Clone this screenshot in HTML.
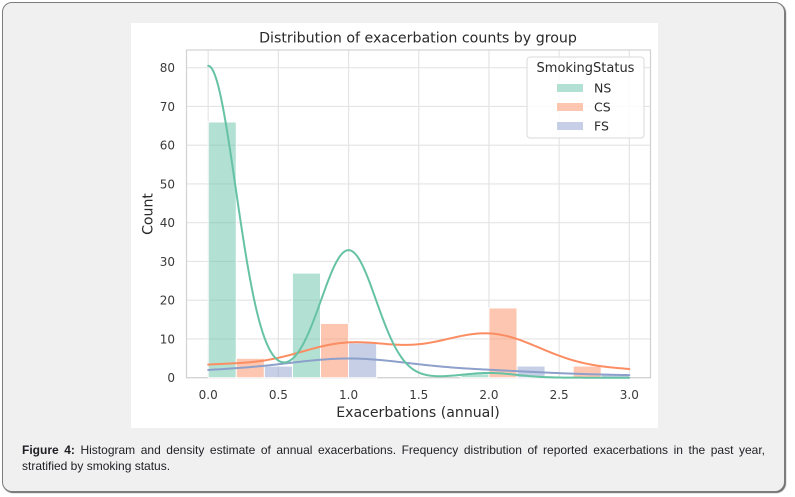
<!DOCTYPE html>
<html><head><meta charset="utf-8">
<style>
html,body{margin:0;padding:0;background:#fff;width:795px;height:497px;overflow:hidden}
.box{position:absolute;left:2px;top:2px;width:783px;height:490px;box-sizing:border-box;border:1px solid #7c7c7c;border-radius:10px;background:#f0f0f0;box-shadow:1px 1px 1px #666}
.cap{position:absolute;left:22px;top:442px;width:743px;font:12px/16px "Liberation Sans",Arial,sans-serif;color:#1e1e24}
.l1{text-align:justify;text-align-last:justify;white-space:nowrap}
svg{position:absolute;left:0;top:0}
</style></head><body>
<div class="box"></div>
<svg width="795" height="497" xmlns="http://www.w3.org/2000/svg" font-family="'DejaVu Sans','Liberation Sans',sans-serif">
<rect x="131" y="23" width="527" height="405" fill="#ffffff"/>
<g id="grid" stroke="#e4e4e4" stroke-width="1.2"></g>
<rect x="186.5" y="50" width="464" height="327.7" fill="none" stroke="#d2d2d2" stroke-width="1.2"/>
<g id="bars"></g>
<g id="lines" fill="none" stroke-width="2" stroke-linejoin="round" stroke-linecap="round">
<path id="fs" stroke="#8da0cb"/>
<path id="cs" stroke="#fc8d62"/>
<path id="ns" stroke="#66c2a5"/>
</g>
<g id="ticks" font-size="12" fill="#3a3a3a"></g>
<text x="418" y="42.5" text-anchor="middle" font-size="14.2" fill="#2a2a2a">Distribution of exacerbation counts by group</text>
<text x="418" y="417" text-anchor="middle" font-size="14.1" fill="#2a2a2a">Exacerbations (annual)</text>
<text transform="translate(152.5,214) rotate(-90)" text-anchor="middle" font-size="14.1" fill="#2a2a2a">Count</text>
<rect x="527" y="57" width="117" height="81" rx="3" fill="#ffffff" fill-opacity="0.85" stroke="#dadada" stroke-width="1"/>
<text x="585.5" y="72" text-anchor="middle" font-size="13" fill="#2a2a2a">SmokingStatus</text>
<rect x="557" y="84" width="26" height="8" fill="#66c2a5" fill-opacity="0.5"/>
<rect x="557" y="103" width="26" height="8" fill="#fc8d62" fill-opacity="0.5"/>
<rect x="557" y="122" width="26" height="8" fill="#8da0cb" fill-opacity="0.5"/>
<text x="594" y="92.5" font-size="12.5" fill="#2a2a2a">NS</text>
<text x="594" y="111.5" font-size="12.5" fill="#2a2a2a">CS</text>
<text x="594" y="130.5" font-size="12.5" fill="#2a2a2a">FS</text>
</svg>
<div class="cap"><div class="l1"><b>Figure 4:</b> Histogram and density estimate of annual exacerbations. Frequency distribution of reported exacerbations in the past year,</div><div>stratified by smoking status.</div></div>
<script>
(function(){
var NS="http://www.w3.org/2000/svg";
var X=function(v){return 208.2+140.37*v;}, Y=function(c){return 377.7-3.875*c;};
function el(tag,attrs,parent,txt){var e=document.createElementNS(NS,tag);for(var k in attrs)e.setAttribute(k,attrs[k]);if(txt!==undefined)e.textContent=txt;parent.appendChild(e);return e;}
var grid=document.getElementById('grid'), ticks=document.getElementById('ticks');
for(var i=0;i<=6;i++){var v=i*0.5,x=X(v);el('line',{x1:x,x2:x,y1:50,y2:377.7},grid);el('text',{x:x,y:399,'text-anchor':'middle'},ticks,v.toFixed(1));}
for(var j=0;j<=8;j++){var c=j*10,y=Y(c);el('line',{x1:186.5,x2:650.5,y1:y,y2:y},grid);el('text',{x:175,y:y+4.4,'text-anchor':'end'},ticks,String(c));}
var data={
 ns:{col:'#66c2a5',slot:0,vals:[0,1,2],cnt:[66,27,1]},
 cs:{col:'#fc8d62',slot:1,vals:[0,1,2,3],cnt:[5,14,18,3]},
 fs:{col:'#8da0cb',slot:2,vals:[0,1,2,3],cnt:[3,9,3,1]}
};
var binOf={0:0,1:1,2:3,3:4};
var bars=document.getElementById('bars');
['ns','cs','fs'].forEach(function(k){
 var d=data[k];
 for(var i=0;i<d.vals.length;i++){
  var b=binOf[d.vals[i]],x0=0.6*b+0.2*d.slot,x1=x0+0.2;
  var px0=X(x0),px1=X(x1),py=Y(d.cnt[i]);
  el('rect',{x:px0,y:py,width:px1-px0,height:377.7-py,fill:d.col,'fill-opacity':0.5,stroke:'#ffffff','stroke-width':1},bars);
 }
 var n=0,s=0,s2=0;
 for(i=0;i<d.vals.length;i++){n+=d.cnt[i];s+=d.cnt[i]*d.vals[i];s2+=d.cnt[i]*d.vals[i]*d.vals[i];}
 var m=s/n,vr=(s2-n*m*m)/(n-1),h=Math.sqrt(vr)*Math.pow(n,-0.2);
 var pts=[];
 for(var g=0;g<=240;g++){
  var xv=3*g/240,f=0;
  for(i=0;i<d.vals.length;i++){var z=(xv-d.vals[i])/h;f+=d.cnt[i]*Math.exp(-0.5*z*z);}
  f=f*0.6/(h*Math.sqrt(2*Math.PI));
  pts.push(X(xv).toFixed(2)+','+Y(f).toFixed(2));
 }
 document.getElementById(k).setAttribute('d','M'+pts.join('L'));
});
})();
</script>
</body></html>
